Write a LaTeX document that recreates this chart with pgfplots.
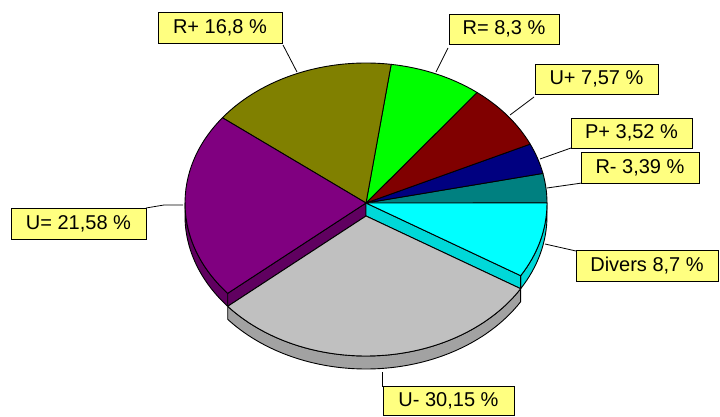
\documentclass[border=0pt]{standalone}
\usepackage{pgfplots}
\pgfplotsset{compat=1.18}
\usepackage{pgfplotstable}
\usepackage{fontspec}
\setmainfont{Liberation Sans}

\definecolor{cA}{HTML}{008080}
\definecolor{cB}{HTML}{000080}
\definecolor{cC}{HTML}{800000}
\definecolor{cD}{HTML}{00FF00}
\definecolor{cE}{HTML}{808000}
\definecolor{cF}{HTML}{800080}
\definecolor{cG}{HTML}{C0C0C0}
\definecolor{cH}{HTML}{00FFFF}
\definecolor{cFs}{HTML}{600060}
\definecolor{cGs}{HTML}{A2A2A2}
\definecolor{cHs}{HTML}{00D8D8}
\definecolor{lab}{HTML}{FFFF80}

\pgfplotstableread{
name pct
R- 3.39
P+ 3.52
U+ 7.57
R= 8.3
R+ 16.8
U= 21.58
U- 30.15
Divers 8.7
}\pietable

\newcommand\nm[1]{\ifcase#1 A\or B\or C\or D\or E\or F\or G\or H\fi}
\newcommand\RX{181}
\newcommand\RY{140}
\newcommand\Pt[3]{(axis cs:{#1+\RX*cos(#3)},{#2+\RY*sin(#3)})}
\newcommand\topface[5]{%
  \filldraw[fill=#5,draw=black,line width=0.9pt,line join=round] (axis cs:#1,#2) -- \Pt{#1}{#2}{#3}
    arc[start angle=#3,end angle=#4,x radius=\RX pt,y radius=\RY pt] -- cycle;}
\newcommand\wall[6]{%
  \filldraw[fill=#5,draw=black,line width=0.9pt,line join=round] \Pt{#1}{#2}{#3}
    arc[start angle=#3,end angle=#4,x radius=\RX pt,y radius=\RY pt] -- \Pt{#1}{#2-#6}{#4}
    arc[start angle=#4,end angle=#3,x radius=\RX pt,y radius=\RY pt] -- cycle;}
\newcommand\rwall[5]{%
  \filldraw[fill=#4,draw=black,line width=0.9pt,line join=round] (axis cs:#1,#2) -- \Pt{#1}{#2}{#3}
    -- \Pt{#1}{#2-#5}{#3} -- (axis cs:#1,{#2-#5}) -- cycle;}

\begin{document}
\def\acc{0}%
\pgfplotsforeachungrouped \i in {0,...,7}{%
  \pgfplotstablegetelem{\i}{pct}\of\pietable
  \pgfmathsetmacro{\s}{\acc}%
  \pgfmathsetmacro{\e}{\acc+3.6*\pgfplotsretval}%
  \expandafter\xdef\csname s\nm{\i}\endcsname{\s}%
  \expandafter\xdef\csname e\nm{\i}\endcsname{\e}%
  \let\acc\e
}%
\begin{tikzpicture}
\begin{axis}[hide axis, x=1pt, y=1pt, xmin=0, xmax=720, ymin=0, ymax=416,
  scale only axis, clip=false, anchor=origin, at={(0,0)}]
% back walls visible
\wall{366}{213}{180}{\eF}{cFs}{13}
\rwall{366}{213}{\eF}{cFs}{13}
\wall{366}{213}{\sH}{360}{cHs}{13}
\rwall{366}{213}{\sH}{cHs}{13}
% top faces
\topface{366}{213}{\sA}{\eA}{cA}
\topface{366}{213}{\sB}{\eB}{cB}
\topface{366}{213}{\sC}{\eC}{cC}
\topface{366}{213}{\sD}{\eD}{cD}
\topface{366}{213}{\sE}{\eE}{cE}
\topface{366}{213}{\sF}{\eF}{cF}
\topface{366}{213}{\sH}{\eH}{cH}
% exploded slice U-
\wall{366}{200}{\sG}{\eG}{cGs}{13}
\topface{366}{200}{\sG}{\eG}{cG}
% leader lines
\draw[line width=0.8pt] (axis cs:283,371) -- (axis cs:297,344);
\draw[line width=0.8pt] (axis cs:448,368) -- (axis cs:436,344);
\draw[line width=0.8pt] (axis cs:534,319) -- (axis cs:510,301);
\draw[line width=0.8pt] (axis cs:571,268) -- (axis cs:540,257);
\draw[line width=0.8pt] (axis cs:582,233) -- (axis cs:547,228);
\draw[line width=0.8pt] (axis cs:146,208) -- (axis cs:164,211) -- (axis cs:183,211);
\draw[line width=0.8pt] (axis cs:545,172) -- (axis cs:576,165);
\draw[line width=0.8pt] (axis cs:382,44) -- (axis cs:382,29);
% labels
\tikzset{lbl/.style={draw=black,fill=lab,line width=0.9pt,inner sep=0pt,anchor=center,
  font=\fontsize{20}{24}\selectfont}}
\node[lbl,minimum width=124pt,minimum height=31pt] at (axis cs:220,388.5) {R+ 16,8 \%};
\node[lbl,minimum width=110pt,minimum height=30pt] at (axis cs:504,387) {R= 8,3 \%};
\node[lbl,minimum width=123pt,minimum height=30pt] at (axis cs:596.5,337) {U+ 7,57 \%};
\node[lbl,minimum width=121pt,minimum height=30pt] at (axis cs:631.5,283) {P+ 3,52 \%};
\node[lbl,minimum width=118pt,minimum height=31pt] at (axis cs:640,248.5) {R- 3,39 \%};
\node[lbl,minimum width=135pt,minimum height=31pt] at (axis cs:78.5,192.5) {U= 21,58 \%};
\node[lbl,minimum width=142pt,minimum height=31pt] at (axis cs:647,150.5) {Divers 8,7 \%};
\node[lbl,minimum width=131pt,minimum height=29pt] at (axis cs:448.5,15.5) {U- 30,15 \%};
\end{axis}
\pgfresetboundingbox
\useasboundingbox (0,0) rectangle (720pt,416pt);
\end{tikzpicture}
\end{document}
